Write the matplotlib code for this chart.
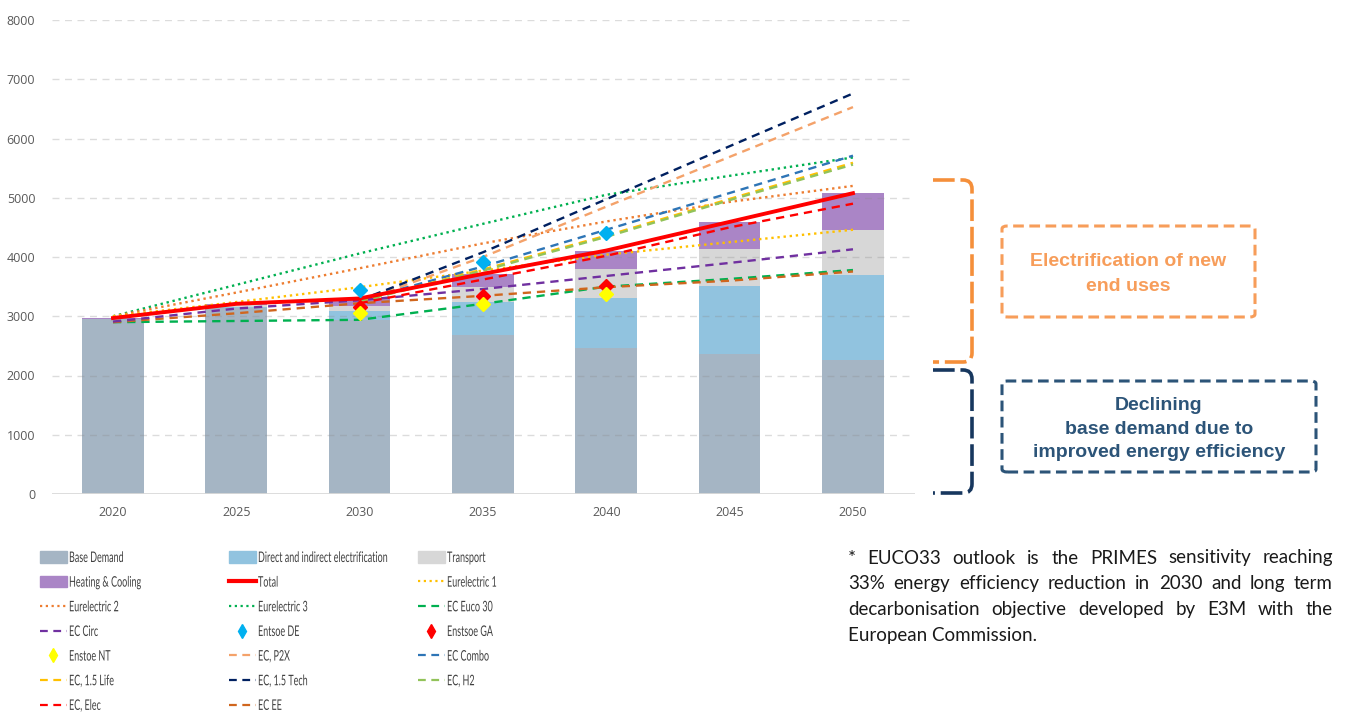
import numpy as np
import matplotlib
matplotlib.use("Agg")
import matplotlib.pyplot as plt
from matplotlib.lines import Line2D
from matplotlib.patches import Patch, FancyBboxPatch, PathPatch
from matplotlib.path import Path
from matplotlib.patheffects import AbstractPathEffect
from matplotlib.transforms import Affine2D, Bbox

W, H = 1348, 714
nan = np.nan

# data
years = ["2020", "2025", "2030", "2035", "2040", "2045", "2050"]
base_demand = [2950, 3137, 2940, 2682, 2456, 2366, 2270]
electrification = [0, 20, 150, 561, 860, 1147, 1429]
transport = [0, 30, 90, 259, 479, 619, 759]
heating_cooling = [20, 23, 120, 214, 314, 461, 619]

total = [2970, 3210, 3300, 3716, 4109, 4593, 5077]
eurelectric_1 = [3000, 3240, 3490, 3770, 4040, 4250, 4460]
eurelectric_2 = [3000, 3400, 3810, 4230, 4600, 4930, 5200]
eurelectric_3 = [3000, 3530, 4060, 4560, 5050, 5370, 5680]
ec_euco30 = [2900, 2920, 2940, 3210, 3500, 3630, 3780]
ec_circ = [2910, 3130, 3270, 3460, 3680, 3900, 4130]
ec_p2x = [nan, nan, 3250, 4000, 4850, 5690, 6530]
ec_combo = [nan, nan, 3270, 3840, 4460, 5080, 5710]
ec_15life = [nan, nan, 3250, 3790, 4360, 4980, 5590]
ec_15tech = [nan, nan, 3270, 4080, 4975, 5870, 6760]
ec_h2 = [nan, nan, 3250, 3770, 4340, 4960, 5560]
ec_elec = [nan, nan, 3220, 3620, 4020, 4500, 4900]
ec_ee = [2900, 3050, 3220, 3345, 3490, 3600, 3755]

entsoe_de = [nan, nan, 3446, 3924, 4402, nan, nan]
entsoe_ga = [nan, nan, 3154, 3350, 3513, nan, nan]
entsoe_nt = [nan, nan, 3053, 3210, 3378, nan, nan]


def fx(x):
    return x / W


def fy(y):
    return 1 - y / H


# squeeze glyphs sideways to mimic the narrow legend font of the original
class Condense(AbstractPathEffect):
    def __init__(self, sx):
        super().__init__()
        self.sx = sx

    def draw_path(self, renderer, gc, tpath, affine, rgbFace=None):
        x0 = affine.transform((0, 0))[0]
        squeeze = Affine2D().translate(-x0, 0).scale(self.sx, 1).translate(x0, 0)
        renderer.draw_path(gc, tpath, affine + squeeze, rgbFace)


def condense_text(t, sx):
    t.set_path_effects([Condense(sx)])
    orig = t.get_window_extent

    def ext(renderer=None, dpi=None):
        bb = orig(renderer, dpi)
        return Bbox.from_extents(bb.x0, bb.y0, bb.x0 + bb.width * sx, bb.y1)
    t.get_window_extent = ext


fig = plt.figure(figsize=(W / 100, H / 100), dpi=100)
ax = fig.add_axes([fx(52), fy(494), (915 - 52) / W, (494 - 20) / H])

x = np.arange(len(years))
bw = 0.5
c_base, c_elec, c_trans, c_heat = "#A5B5C4", "#91C3DF", "#D7D7D7", "#AA85C6"

bottom = np.zeros(len(years))
for vals, col in [(base_demand, c_base), (electrification, c_elec),
                  (transport, c_trans), (heating_cooling, c_heat)]:
    ax.bar(x, vals, bw, bottom=bottom, color=col, zorder=1)
    bottom += np.array(vals)

# grid sits over the bars, like the original
for v in range(1000, 8001, 1000):
    ax.axhline(v, color=(0.55, 0.55, 0.55, 0.3), lw=1, ls=(0, (5, 4)), zorder=1.5)
ax.axhline(0, color="#D9D9D9", lw=2, zorder=1.6)

DASH = (0, (3.5, 2.5))
DOT = (0, (1, 1.6))
lines = [
    (eurelectric_3, "#00B050", DOT),
    (eurelectric_2, "#ED7D31", DOT),
    (eurelectric_1, "#FFC000", DOT),
    (ec_euco30, "#00B050", DASH),
    (ec_ee, "#D0661E", DASH),
    (ec_circ, "#7030A0", DASH),
    (ec_p2x, "#F4A26A", DASH),
    (ec_15tech, "#002060", DASH),
    (ec_combo, "#2E75B6", DASH),
    (ec_15life, "#FFC000", DASH),
    (ec_h2, "#92C35A", DASH),
    (ec_elec, "#FF0000", DASH),
]
for vals, col, ls in lines:
    ax.plot(x, vals, color=col, lw=1.7, ls=ls, zorder=3)
ax.plot(x, total, color="#FF0000", lw=2.8, zorder=4)

for vals, col in [(entsoe_de, "#00B0F0"), (entsoe_ga, "#FF0000"), (entsoe_nt, "#FFFF00")]:
    ax.plot(x, vals, ls="none", marker="D", ms=7, color=col, mec=col, zorder=5)

ax.set_xlim((52 - 113) / 123.33, (915 - 113) / 123.33)
ax.set_ylim(0, 8000)
ax.set_yticks(range(0, 8001, 1000))
ax.set_xticks(x)
ax.set_xticklabels(years)
for s in ax.spines.values():
    s.set_visible(False)
ax.tick_params(length=0, colors="#595959", labelsize=9, pad=12)
ax.tick_params(axis="x", pad=9)
for lab in ax.get_xticklabels() + ax.get_yticklabels():
    lab.set_fontfamily(["Open Sans", "DejaVu Sans"])

# legend, three columns placed by hand
LF = ["Lato", "DejaVu Sans"]
items = [
    (Patch(color=c_base), "Base Demand"),
    (Patch(color=c_elec), "Direct and indirect electrification"),
    (Patch(color=c_trans), "Transport"),
    (Patch(color=c_heat), "Heating & Cooling"),
    (Line2D([], [], color="#FF0000", lw=3), "Total"),
    (Line2D([], [], color="#FFC000", lw=1.6, ls=DOT), "Eurelectric 1"),
    (Line2D([], [], color="#ED7D31", lw=1.6, ls=DOT), "Eurelectric 2"),
    (Line2D([], [], color="#00B050", lw=1.6, ls=DOT), "Eurelectric 3"),
    (Line2D([], [], color="#00B050", lw=1.6, ls=DASH), "EC Euco 30"),
    (Line2D([], [], color="#7030A0", lw=1.6, ls=DASH), "EC Circ"),
    (Line2D([], [], color="#00B0F0", ls="none", marker="d", ms=7), "Entsoe DE"),
    (Line2D([], [], color="#FF0000", ls="none", marker="d", ms=7), "Enstsoe GA"),
    (Line2D([], [], color="#FFFF00", ls="none", marker="d", ms=7), "Enstoe NT"),
    (Line2D([], [], color="#F4A26A", lw=1.6, ls=DASH), "EC, P2X"),
    (Line2D([], [], color="#2E75B6", lw=1.6, ls=DASH), "EC Combo"),
    (Line2D([], [], color="#FFC000", lw=1.6, ls=DASH), "EC, 1.5 Life"),
    (Line2D([], [], color="#002060", lw=1.6, ls=DASH), "EC, 1.5 Tech"),
    (Line2D([], [], color="#92C35A", lw=1.6, ls=DASH), "EC, H2"),
    (Line2D([], [], color="#FF0000", lw=1.6, ls=DASH), "EC, Elec"),
    (Line2D([], [], color="#D0661E", lw=1.6, ls=DASH), "EC EE"),
]
for col, xpos in enumerate([40, 229, 418]):
    sub = items[col::3]
    leg = fig.legend([h for h, _ in sub], [l for _, l in sub], loc="upper left",
                     bbox_to_anchor=(fx(xpos), fy(551)), frameon=False,
                     borderpad=0, borderaxespad=0, handlelength=1.85,
                     handleheight=0.8, handletextpad=0.14, labelspacing=0.73,
                     prop={"family": LF, "size": 10.5})
    for t in leg.get_texts():
        t.set_color("#404040")
        condense_text(t, 0.615)

# brackets on the right
def bracket(y0, y1, color):
    xl, xr, r = 933, 972, 9
    verts = [(xl, y0), (xr - r, y0), (xr, y0), (xr, y0 + r), (xr, y1 - r),
             (xr, y1), (xr - r, y1), (xl, y1)]
    codes = [Path.MOVETO, Path.LINETO, Path.CURVE3, Path.CURVE3, Path.LINETO,
             Path.CURVE3, Path.CURVE3, Path.LINETO]
    verts = [(fx(a), fy(b)) for a, b in verts]
    fig.patches.append(PathPatch(Path(verts, codes), transform=fig.transFigure,
                                 fill=False, ec=color, lw=2.6, ls=(0, (6, 1.6))))

bracket(180, 362, "#F58F3A")
bracket(370, 493, "#17375E")


def dashed_box(x0, y0, x1, y1, color):
    fig.patches.append(FancyBboxPatch((fx(x0), fy(y1)), fx(x1 - x0), (y1 - y0) / H,
                                      boxstyle="round,pad=0,rounding_size=0.004",
                                      transform=fig.transFigure, fill=False,
                                      ec=color, lw=2.2, ls=(0, (3.5, 1.8))))

dashed_box(1002, 226, 1255, 317, "#F79D5A")
dashed_box(1002, 381, 1316, 472, "#2C5478")
fig.text(fx(1128), fy(274), "Electrification of new\nend uses", ha="center", va="center",
         color="#F79D5A", fontsize=14, fontweight="bold", family="Liberation Sans",
         linespacing=1.55)
fig.text(fx(1159), fy(429), "Declining\nbase demand due to\nimproved energy efficiency",
         ha="center", va="center", color="#2C5478", fontsize=14, fontweight="bold",
         family="Liberation Sans", linespacing=1.5)

# justified note
note_lines = [
    "* EUCO33 outlook is the PRIMES sensitivity reaching",
    "33% energy efficiency reduction in 2030 and long term",
    "decarbonisation objective developed by E3M with the",
    "European Commission.",
]
NF = ["Lato", "DejaVu Sans"]
left, right = 848, 1333
fig.canvas.draw()
rend = fig.canvas.get_renderer()
for i, line in enumerate(note_lines):
    yy = fy(558 + i * 25.7)
    words = line.split(" ")
    if i == len(note_lines) - 1:
        fig.text(fx(left), yy, line, va="center", ha="left", family=NF,
                 fontsize=13.5, color="#1A1A1A")
        continue
    txts = [fig.text(0, yy, w, va="center", ha="left", family=NF, fontsize=13.5,
                     color="#1A1A1A") for w in words]
    widths = [t.get_window_extent(rend).width for t in txts]
    gap = (right - left - sum(widths)) / (len(words) - 1)
    cur = left
    for t, wd in zip(txts, widths):
        t.set_x(fx(cur))
        cur += wd + gap

fig.savefig("out.png", dpi=100)
